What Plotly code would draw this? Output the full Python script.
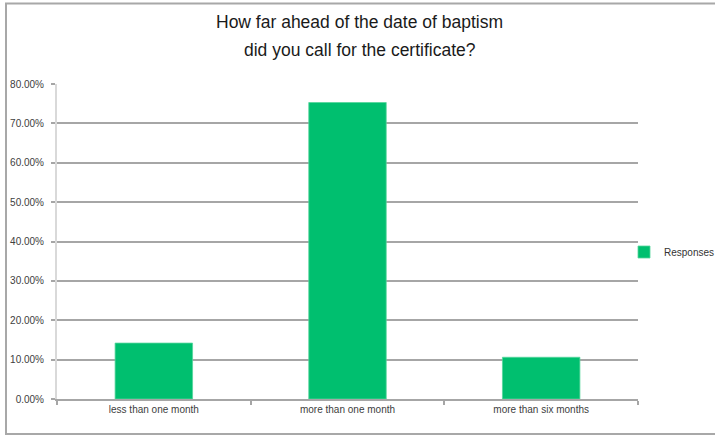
import plotly.graph_objects as go

categories = ["less than one month", "more than one month", "more than six months"]
responses = [0.142, 0.753, 0.106]
y_ticks = [0, 0.1, 0.2, 0.3, 0.4, 0.5, 0.6, 0.7, 0.8]
title_lines = ["How far ahead of the date of baptism", "did you call for the certificate?"]

W, H = 715, 435
L, R, T, B = 57, 77, 84, 36
pw = W - L - R
ph = H - T - B

def px2x(px):
    return (px - L) / pw

def py2y(py):
    return (H - B - py) / ph

font_main = "Liberation Sans, Arial, sans-serif"

fig = go.Figure()
fig.add_trace(go.Bar(
    x=categories, y=responses, name="Responses",
    marker=dict(color="#00BF6F", line=dict(color="#55D69C", width=0.8)),
    width=0.4, showlegend=True,
))

annotations = []
for line, cy in zip(title_lines, [22, 50]):
    annotations.append(dict(
        text=line, xref="paper", yref="paper",
        x=px2x(360), y=py2y(cy), xanchor="center", yanchor="middle",
        showarrow=False,
        font=dict(family=font_main, size=17.5, color="#1a1a1a"),
    ))

fig.update_layout(
    width=W, height=H,
    margin=dict(l=L, r=R, t=T, b=B, autoexpand=False),
    paper_bgcolor="white", plot_bgcolor="white",
    showlegend=True,
    legend=dict(
        xref="container", yref="container",
        x=624 / W, y=1 - 252 / H, xanchor="left", yanchor="middle",
        font=dict(family=font_main, size=10, color="#333333"),
        bgcolor="rgba(0,0,0,0)", itemwidth=30,
    ),
    font=dict(family=font_main, size=10, color="#404040"),
    annotations=annotations,
    shapes=[
        dict(type="line", xref="paper", yref="paper",
             x0=px2x(6), x1=px2x(6), y0=py2y(3), y1=py2y(434),
             line=dict(color="#a8a8a8", width=2)),
        dict(type="line", xref="paper", yref="paper",
             x0=px2x(5), x1=px2x(720), y0=py2y(3.5), y1=py2y(3.5),
             line=dict(color="#a8a8a8", width=2)),
        dict(type="line", xref="paper", yref="paper",
             x0=px2x(5), x1=px2x(720), y0=py2y(434), y1=py2y(434),
             line=dict(color="#a8a8a8", width=2)),
    ],
)

fig.update_yaxes(
    range=[0, 0.8], tickvals=y_ticks, tickformat=".2%",
    showgrid=True, gridcolor="#a6a6a6", gridwidth=1.5,
    ticks="outside", ticklen=4, tickcolor="#a6a6a6", tickwidth=1.5,
    ticklabelstandoff=5,
    showline=True, linecolor="#d9d9d9", linewidth=2,
    zeroline=False, automargin=False,
    tickfont=dict(family=font_main, size=10, color="#404040"),
)
fig.update_xaxes(
    showgrid=False, showline=True, linecolor="#a6a6a6", linewidth=1.5,
    ticks="outside", tickson="boundaries", ticklen=4, tickcolor="#a6a6a6", tickwidth=1.5,
    automargin=False,
    tickfont=dict(family=font_main, size=10, color="#404040"),
)

fig.write_html(
    "out.html",
    config={"displayModeBar": False},
    post_script="document.body.style.margin='0';document.body.style.padding='0';",
)
